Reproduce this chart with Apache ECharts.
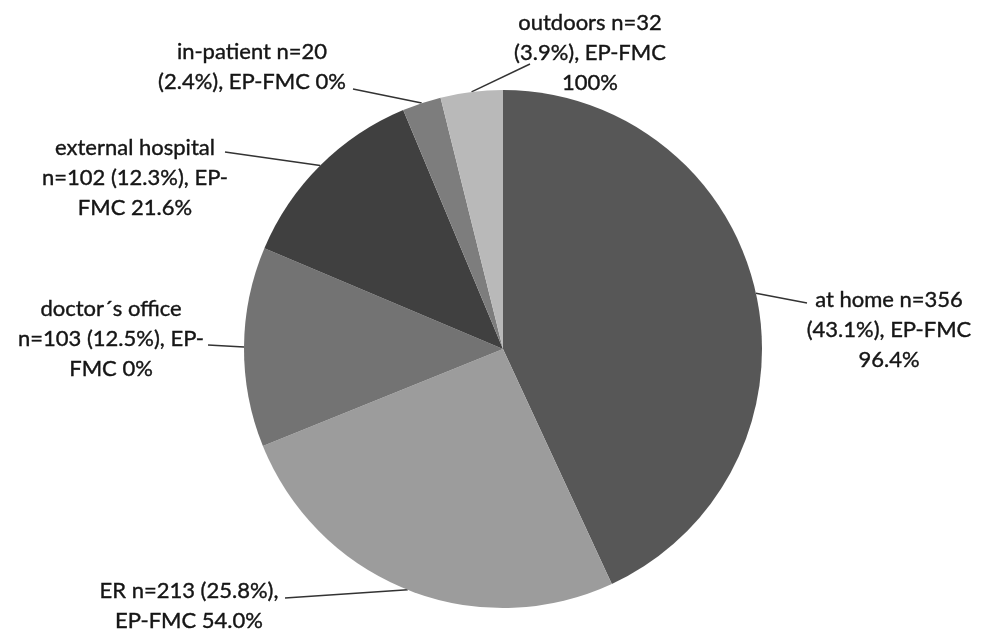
<!DOCTYPE html>
<html>
<head>
<meta charset="utf-8">
<script src="https://cdn.jsdelivr.net/npm/echarts@6/dist/echarts.min.js"></script>
<style>
  html, body { margin: 0; padding: 0; background: #fff; }
  #chart { width: 989px; height: 630px; }
</style>
</head>
<body>
<div id="chart"></div>
<script>
// Place of first medical contact, clockwise from 12 o'clock
const categories = ['at home', 'ER', 'doctor\u00b4s office', 'external hospital', 'in-patient', 'outdoors'];
const counts = [356, 213, 103, 102, 20, 32];
const labelTexts = [
  'at home n=356\n(43.1%), EP-FMC\n96.4%',
  'ER n=213 (25.8%),\nEP-FMC 54.0%',
  'doctor\u00b4s office\nn=103 (12.5%), EP-\nFMC 0%',
  'external hospital\nn=102 (12.3%), EP-\nFMC 21.6%',
  'in-patient n=20\n(2.4%), EP-FMC 0%',
  'outdoors n=32\n(3.9%), EP-FMC\n100%'
];
const sliceColors = ['#575757', '#9c9c9c', '#737373', '#404040', '#7d7d7d', '#b9b9b9'];

// label block centre and the point where its leader line ends
const labelSpots = [
  { x: 889, y: 330, end: [807, 303] },
  { x: 189, y: 606, end: [285, 598] },
  { x: 111, y: 339, end: [208, 345] },
  { x: 135, y: 178, end: [225, 152] },
  { x: 252, y: 67,  end: [353, 89] },
  { x: 590, y: 53,  end: [530, 64] }
];

const chart = echarts.init(document.getElementById('chart'));
chart.setOption({
  animation: false,
  backgroundColor: '#ffffff',
  series: [{
    type: 'pie',
    center: [503, 349],
    radius: [0, 259],
    startAngle: 90,
    clockwise: true,
    data: categories.map((name, i) => ({
      name: name,
      value: counts[i],
      itemStyle: { color: sliceColors[i] },
      label: { formatter: labelTexts[i] }
    })),
    itemStyle: { borderWidth: 0 },
    label: {
      show: true,
      position: 'outside',
      fontFamily: 'Lato, "Open Sans", sans-serif',
      fontSize: 22,
      lineHeight: 30,
      color: '#151515',
      textBorderColor: '#151515',
      textBorderWidth: 0.4,
      align: 'center'
    },
    labelLine: {
      show: true,
      length: 10,
      length2: 10,
      smooth: false,
      lineStyle: { color: '#333333', width: 1.5 }
    },
    labelLayout: function (params) {
      const spot = labelSpots[params.dataIndex];
      const start = params.labelLinePoints ? params.labelLinePoints[0] : spot.end;
      return {
        x: spot.x,
        y: spot.y,
        align: 'center',
        verticalAlign: 'middle',
        labelLinePoints: [start, spot.end, spot.end]
      };
    }
  }]
});
</script>
</body>
</html>
